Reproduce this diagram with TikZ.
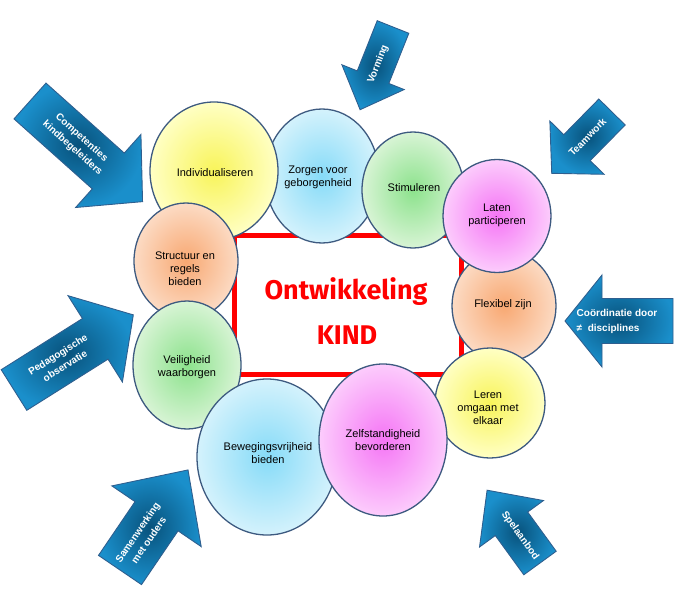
\documentclass[tikz,border=0pt]{standalone}
\usepackage{fontspec}
\setmainfont{Liberation Sans}
\newfontfamily\titlefont{Fira Sans}
\usetikzlibrary{shapes.geometric}
\definecolor{outl}{HTML}{3D5A80}
\definecolor{arrowline}{HTML}{2F5F8F}
\definecolor{arrowin}{HTML}{08527C}
\definecolor{arrowout}{HTML}{1A8FCB}
\definecolor{yin}{HTML}{F8F45A}\definecolor{yout}{HTML}{FFFFC4}
\definecolor{bin}{HTML}{86DBF8}\definecolor{bout}{HTML}{D4F2FC}
\definecolor{gin}{HTML}{8CE28C}\definecolor{gout}{HTML}{D8F4D5}
\definecolor{pin}{HTML}{F575F5}\definecolor{pout}{HTML}{FCCCFC}
\definecolor{oin}{HTML}{F8A872}\definecolor{oout}{HTML}{FCDBC4}
\definecolor{kidred}{HTML}{FF0000}
\tikzset{
  bubble/.style={ellipse, draw=outl, line width=1.3pt, inner sep=0pt},
  ybub/.style={bubble, inner color=yin, outer color=yout},
  bbub/.style={bubble, inner color=bin, outer color=bout},
  gbub/.style={bubble, inner color=gin, outer color=gout},
  pbub/.style={bubble, inner color=pin, outer color=pout},
  obub/.style={bubble, inner color=oin, outer color=oout},
  bubtext/.style={align=center, font=\fontsize{11}{13}\selectfont, text=black, inner sep=0pt},
  arrowbody/.style={draw=arrowline, line width=0.9pt, inner color=arrowin, outer color=arrowout, line join=miter},
  arrowtext/.style={align=center, font=\bfseries\fontsize{10}{13.5}\selectfont, text=white, inner sep=0pt},
}
% #1 name, #2 tail, #3 angle, #4 length, #5 shaft width, #6 head width, #7 head length, #8 text distance, #9 text
\newcommand{\blockarr}[9]{%
  \pgfmathsetmacro{\tang}{((#3)>90) ? (#3)-180 : (((#3)<(-90)) ? (#3)+180 : (#3))}%
  \begin{scope}[shift={#2}, rotate=#3]
    \path[arrowbody] (0,-#5/2) -- ({#4-#7},-#5/2) -- ({#4-#7},-#6/2) -- (#4,0)
      -- ({#4-#7},#6/2) -- ({#4-#7},#5/2) -- (0,#5/2) -- cycle;
    \node[arrowtext, rotate=\tang] (#1) at (#8,0) {#9};
  \end{scope}}
\begin{document}
\begin{tikzpicture}[x=1pt,y=1pt]
\useasboundingbox (0,0) rectangle (682,-594);
% arrows
\blockarr{aComp}{(30,-101)}{-41.8}{151}{48}{98}{46}{63}{Competenties\\kindbegeleiders}
\blockarr{aVorm}{(393,-27)}{-111.7}{89}{34}{67}{35}{40}{Vorming}
\blockarr{aTeam}{(612,-112)}{-134.5}{86}{37}{76}{36}{35}{Teamwork}
\blockarr{aCoord}{(673,-321)}{180}{108}{45}{92}{37}{56}{\begin{tabular}{@{}l@{}}Coördinatie door\\[1.5pt]≠\ \ disciplines\end{tabular}}
\blockarr{aPed}{(14,-390)}{32.2}{141}{48}{102}{45}{56}{Pedagogische\\observatie}
\blockarr{aSam}{(120,-570)}{55.8}{121}{52}{108}{56}{41}{Samenwerking\\met ouders}
\blockarr{aSpel}{(540,-563)}{126}{90}{40}{79}{41.5}{34}{Spelaanbod}
% centre frame
\node[draw=kidred, line width=5pt, fill=white, minimum width=226.5pt, minimum height=139pt, inner sep=0pt] (frame) at (347.75,-305) {};
% bubbles
\node[obub, minimum width=104pt, minimum height=112pt] (c5) at (504,-306) {};
\node[ybub, minimum width=110pt, minimum height=110pt] (c6) at (490,-403) {};
\node[bbub, minimum width=114pt, minimum height=134pt] (c2) at (322,-176) {};
\node[gbub, minimum width=102pt, minimum height=116pt] (c3) at (413,-190) {};
\node[pbub, minimum width=108pt, minimum height=113pt] (c4) at (497,-216) {};
\node[ybub, minimum width=128pt, minimum height=138pt] (c1) at (214,-171) {};
\node[obub, minimum width=104pt, minimum height=116pt] (c10) at (186,-261) {};
\node[gbub, minimum width=108pt, minimum height=128pt] (c9) at (187,-365) {};
\node[bbub, minimum width=140pt, minimum height=156pt] (c8) at (267,-457) {};
\node[pbub, minimum width=128pt, minimum height=152pt] (c7) at (383,-440) {};
% bubble texts
\node[bubtext] (t1) at (215,-173) {Individualiseren};
\node[bubtext] (t2) at (318,-177) {Zorgen voor\\geborgenheid};
\node[bubtext] (t3) at (414,-188) {Stimuleren};
\node[bubtext] (t4) at (497,-215) {Laten\\participeren};
\node[bubtext] (t5) at (503,-305) {Flexibel zijn};
\node[bubtext] (t6) at (488,-408) {Leren\\omgaan met\\elkaar};
\node[bubtext] (t7) at (383,-440) {Zelfstandigheid\\bevorderen};
\node[bubtext] (t8) at (268,-453) {Bewegingsvrijheid\\bieden};
\node[bubtext] (t9) at (187,-367) {Veiligheid\\waarborgen};
\node[bubtext] (t10) at (185,-269) {Structuur en\\regels\\bieden};
% title
\node[text=kidred, font=\titlefont\bfseries\fontsize{27}{28}\selectfont, inner sep=0pt] (tt1) at (346,-292) {Ontwikkeling};
\node[text=kidred, font=\titlefont\bfseries\fontsize{27}{28}\selectfont, inner sep=0pt] (tt2) at (347,-335) {KIND};
\end{tikzpicture}
\end{document}
